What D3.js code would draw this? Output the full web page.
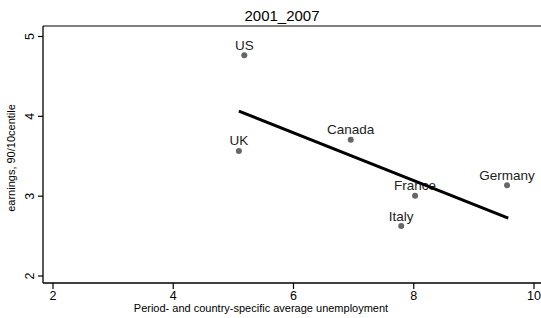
<!DOCTYPE html>
<html>
<head>
<meta charset="utf-8">
<script src="https://cdn.jsdelivr.net/npm/d3@7"></script>
<style>
  body { margin: 0; background: #fff; }
  text { font-family: "Liberation Sans", Arial, sans-serif; }
</style>
</head>
<body>
<div id="chart"></div>
<script>
// data
const countries = ["US", "UK", "Canada", "Germany", "France", "Italy"];
const unemp = [5.19, 5.10, 6.96, 9.56, 8.03, 7.80];
const ratio = [4.76, 3.56, 3.70, 3.13, 3.00, 2.62];
const fitX = [5.10, 9.58];
const fitY = [4.06, 2.72];
const xTicks = [2, 4, 6, 8, 10];
const yTicks = [2, 3, 4, 5];

const width = 541, height = 318;
const plotLeft = 43, plotTop = 26, plotBottom = 283;

const svg = d3.select("#chart").append("svg")
  .attr("width", width)
  .attr("height", height);

const x = d3.scaleLinear().domain([2, 10]).range([52.5, 533.5]);
const y = d3.scaleLinear().domain([2, 5]).range([275.5, 36]);

// frame: top, left, bottom lines
svg.append("line")
  .attr("x1", plotLeft).attr("x2", width).attr("y1", plotTop).attr("y2", plotTop)
  .attr("stroke", "#000").attr("stroke-width", 1);

const xAxis = svg.append("g")
  .attr("transform", `translate(0,${plotBottom})`)
  .call(d3.axisBottom(x).tickValues(xTicks).tickSize(6).tickPadding(2).tickFormat(d3.format("d")));
xAxis.select(".domain").attr("d", `M${plotLeft},0H${width}`);

const yAxis = svg.append("g")
  .attr("transform", `translate(${plotLeft},0)`)
  .call(d3.axisLeft(y).tickValues(yTicks).tickSize(5).tickFormat(d3.format("d")));
yAxis.select(".domain").attr("d", `M0,${plotTop}V${plotBottom}`);

svg.selectAll(".domain").attr("stroke", "#000").attr("stroke-width", 1.3);
svg.selectAll(".tick line").attr("stroke", "#000").attr("stroke-width", 1.2);
xAxis.selectAll(".tick text").attr("font-size", 12.5).attr("fill", "#000").attr("font-family", null);
yAxis.selectAll(".tick text")
  .attr("font-size", 12.5).attr("fill", "#000").attr("font-family", null)
  .attr("text-anchor", "middle")
  .attr("x", null).attr("dy", null)
  .attr("transform", "translate(-9,0) rotate(-90)");

// title + axis titles
svg.append("text")
  .attr("x", 282).attr("y", 21)
  .attr("text-anchor", "middle")
  .attr("font-size", 15)
  .text("2001_2007");

svg.append("text")
  .attr("x", 261).attr("y", 312)
  .attr("text-anchor", "middle")
  .attr("font-size", 11)
  .text("Period- and country-specific average unemployment");

svg.append("text")
  .attr("transform", "translate(15,158) rotate(-90)")
  .attr("text-anchor", "middle")
  .attr("font-size", 11)
  .text("earnings, 90/10centile");

// points + labels
const pts = countries.map((c, i) => ({ name: c, x: unemp[i], y: ratio[i] }));

svg.append("g").selectAll("circle")
  .data(pts)
  .enter().append("circle")
  .attr("cx", d => x(d.x))
  .attr("cy", d => y(d.y))
  .attr("r", 3)
  .attr("fill", "#666");

svg.append("g").selectAll("text")
  .data(pts)
  .enter().append("text")
  .attr("x", d => x(d.x))
  .attr("y", d => y(d.y) - 5.5)
  .attr("text-anchor", "middle")
  .attr("font-size", 13.5)
  .attr("fill", "#222")
  .text(d => d.name);

// fitted line
svg.append("path")
  .datum(fitX.map((v, i) => [v, fitY[i]]))
  .attr("d", d3.line().x(d => x(d[0])).y(d => y(d[1])))
  .attr("fill", "none")
  .attr("stroke", "#000")
  .attr("stroke-width", 3);
</script>
</body>
</html>
